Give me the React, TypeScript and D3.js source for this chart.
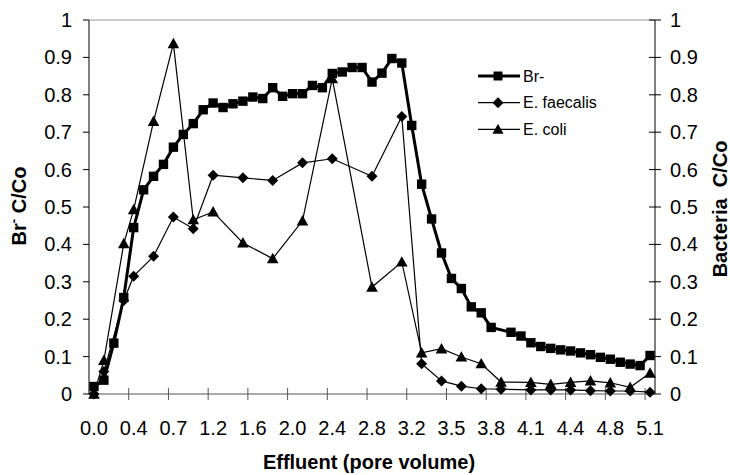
import React from 'react';
import * as d3 from 'd3';

// --- Data ---
const categoryCount = 57;
const xTickLabels = ['0.0', '0.4', '0.7', '1.2', '1.6', '2.0', '2.4', '2.8', '3.2', '3.5', '3.8', '4.1', '4.4', '4.8', '5.1'];
const yTicks = [0, 0.1, 0.2, 0.3, 0.4, 0.5, 0.6, 0.7, 0.8, 0.9, 1];

// Br- sampled at every category (one gap)
const bromide = [
  0.02, 0.037, 0.136, 0.258, 0.445, 0.546, 0.582, 0.614, 0.66, 0.694,
  0.723, 0.76, 0.778, 0.766, 0.776, 0.783, 0.794, 0.79, 0.819, 0.796,
  0.803, 0.803, 0.825, 0.819, 0.857, 0.861, 0.873, 0.873, 0.834, 0.858,
  0.897, 0.885, 0.718, 0.561, 0.468, 0.377, 0.309, 0.282, 0.233, 0.217,
  0.178, null, 0.165, 0.155, 0.137, 0.127, 0.122, 0.118, 0.115, 0.11,
  0.105, 0.098, 0.093, 0.085, 0.08, 0.076, 0.103,
];

// bacteria were sampled at fewer categories
const bacteriaSamples = [0, 1, 3, 4, 6, 8, 10, 12, 15, 18, 21, 24, 28, 31, 33, 35, 37, 39, 41, 44, 46, 48, 50, 52, 54, 56];
const faecalis = [0, 0.06, 0.25, 0.315, 0.368, 0.473, 0.442, 0.585, 0.578, 0.571, 0.618, 0.629, 0.582, 0.742, 0.081, 0.035, 0.021, 0.014, 0.013, 0.011, 0.011, 0.011, 0.009, 0.008, 0.008, 0.005];
const coli = [0, 0.09, 0.402, 0.493, 0.729, 0.937, 0.466, 0.487, 0.404, 0.362, 0.463, 0.843, 0.286, 0.353, 0.11, 0.121, 0.099, 0.081, 0.032, 0.031, 0.026, 0.031, 0.035, 0.03, 0.018, 0.056];

const FONT = '"Liberation Sans", Arial, sans-serif';

type Pt = { k: number; v: number };

const squarePath = (s: number) => `M${-s},${-s}H${s}V${s}H${-s}Z`;
const diamondPath = (s: number) => `M0,${-s}L${s},0L0,${s}L${-s},0Z`;
const trianglePath = (s: number) => `M0,${-s}L${s},${s * 0.8}L${-s},${s * 0.8}Z`;

const App = () => {
  const width = 730;
  const height = 475;
  const left = 89;
  const right = 655;
  const top = 20;
  const bottom = 394;

  const x = d3.scaleBand<number>()
    .domain(d3.range(categoryCount))
    .range([left, right])
    .padding(0);
  const bw = x.bandwidth();
  const cx = (k: number) => (x(k) as number) + bw / 2;

  const y = d3.scaleLinear().domain([0, 1]).range([bottom, top]);

  const line = d3.line<Pt>().x(d => cx(d.k)).y(d => y(d.v));

  const brPts: Pt[] = bromide
    .map((v, k) => ({ k, v }))
    .filter(d => d.v !== null) as Pt[];
  const efPts: Pt[] = bacteriaSamples.map((k, i) => ({ k, v: faecalis[i] }));
  const ecPts: Pt[] = bacteriaSamples.map((k, i) => ({ k, v: coli[i] }));

  // tick marks every 4 categories, at category boundaries
  const xTickPos = d3.range(1, Math.floor(categoryCount / 4) + 1).map(j => (x(j * 4) as number));

  const legend = [
    { label: 'Br-', path: squarePath(4.5), lw: 3 },
    { label: 'E. faecalis', path: diamondPath(5.5), lw: 1.2 },
    { label: 'E. coli', path: trianglePath(5.5), lw: 1.2 },
  ];
  const legendY = [76, 102.7, 129.3];

  return (
    <svg width={width} height={height} style={{ position: 'absolute', left: 0, top: 0, background: '#fff' }}>
      <rect width={width} height={height} fill="#fff" />

      {/* plot area border (top) */}
      <line x1={left} x2={right} y1={top} y2={top} stroke="#999" strokeWidth={1} />

      {/* left axis */}
      <line x1={left} x2={left} y1={top} y2={bottom} stroke="#000" strokeWidth={1} />
      {yTicks.map(t => (
        <g key={'l' + t}>
          <line x1={left - 6} x2={left} y1={y(t)} y2={y(t)} stroke="#000" />
          <text x={72} y={y(t)} dy="0.35em" textAnchor="end" fontFamily={FONT} fontSize={20}>
            {d3.format('~g')(t)}
          </text>
        </g>
      ))}

      {/* right axis */}
      <line x1={right} x2={right} y1={top} y2={bottom} stroke="#000" strokeWidth={1} />
      {yTicks.map(t => (
        <g key={'r' + t}>
          <line x1={right - 6} x2={right + 6} y1={y(t)} y2={y(t)} stroke="#000" />
          <text x={670} y={y(t)} dy="0.35em" textAnchor="start" fontFamily={FONT} fontSize={20}>
            {d3.format('~g')(t)}
          </text>
        </g>
      ))}

      {/* x axis */}
      <line x1={left} x2={right} y1={bottom} y2={bottom} stroke="#555" strokeWidth={1} />
      {xTickPos.map((p, i) => (
        <line key={'xt' + i} x1={p} x2={p} y1={bottom - 6} y2={bottom + 6} stroke="#555" />
      ))}
      {xTickLabels.map((lab, i) => (
        <text key={'xl' + i} x={cx(i * 4)} y={435} textAnchor="middle" fontFamily={FONT} fontSize={20}>
          {lab}
        </text>
      ))}

      {/* axis titles */}
      <text transform="translate(26,206) rotate(-90)" textAnchor="middle" fontFamily={FONT} fontSize={20} fontWeight="bold">
        Br<tspan fontSize={13} dy={-8}>-</tspan><tspan dy={8}> C/Co</tspan>
      </text>
      <text transform="translate(727,209) rotate(-90)" textAnchor="middle" fontFamily={FONT} fontSize={20} fontWeight="bold" style={{ whiteSpace: 'pre' }}>
        {'Bacteria  C/Co'}
      </text>
      <text x={369} y={469} textAnchor="middle" fontFamily={FONT} fontSize={20} fontWeight="bold">
        Effluent (pore volume)
      </text>

      {/* Br- */}
      <path d={line(brPts) || ''} fill="none" stroke="#000" strokeWidth={3} strokeLinejoin="round" />
      {brPts.map(d => (
        <path key={'b' + d.k} d={squarePath(4.7)} transform={`translate(${cx(d.k)},${y(d.v)})`} fill="#000" />
      ))}

      {/* E. faecalis */}
      <path d={line(efPts) || ''} fill="none" stroke="#000" strokeWidth={1.2} />
      {efPts.map(d => (
        <path key={'f' + d.k} d={diamondPath(5.5)} transform={`translate(${cx(d.k)},${y(d.v)})`} fill="#000" />
      ))}

      {/* E. coli */}
      <path d={line(ecPts) || ''} fill="none" stroke="#000" strokeWidth={1.2} />
      {ecPts.map(d => (
        <path key={'c' + d.k} d={trianglePath(5.8)} transform={`translate(${cx(d.k)},${y(d.v)})`} fill="#000" />
      ))}

      {/* legend */}
      {legend.map((l, i) => (
        <g key={'lg' + i} transform={`translate(0,${legendY[i]})`}>
          <line x1={478} x2={520} y1={0} y2={0} stroke="#000" strokeWidth={l.lw} />
          <path d={l.path} transform="translate(498,0)" fill="#000" />
          <text x={523} y={0} dy="0.35em" fontFamily={FONT} fontSize={16}>{l.label}</text>
        </g>
      ))}
    </svg>
  );
};

export default App;
